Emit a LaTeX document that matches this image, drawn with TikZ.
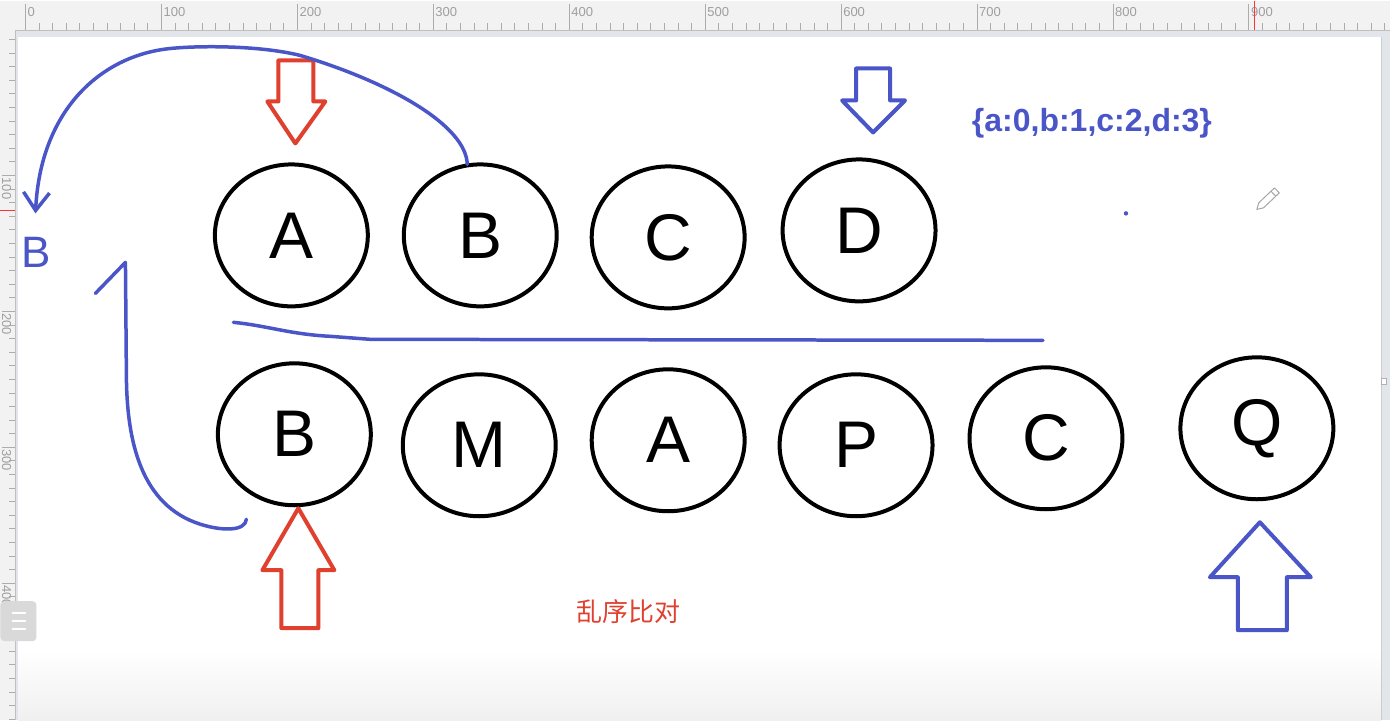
\documentclass[tikz,border=0pt]{standalone}
\usepackage{fontspec}
\setmainfont{Liberation Sans}
\newfontfamily\cjkfont{Noto Sans CJK SC}
\usetikzlibrary{arrows.meta, shapes.geometric, positioning}

\definecolor{penblue}{HTML}{4A55C8}
\definecolor{penred}{HTML}{E0412F}
\definecolor{rulergray}{HTML}{F2F2F2}
\definecolor{framegray}{HTML}{E2E6EB}

\begin{document}
\begin{tikzpicture}[
    x=1pt, y=-1pt,
    ball/.style={
        ellipse, draw=black, line width=4pt,
        minimum width=153pt, minimum height=142pt,
        inner sep=0pt, outer sep=0pt,
        font=\fontsize{66}{66}\selectfont
    },
    pen/.style={draw=penblue, line width=3.5pt, line cap=round, line join=round},
    fatarr/.style={line width=4pt, line join=round},
    rulerlabel/.style={font=\fontsize{13}{13}\selectfont, text=gray!75, inner sep=0pt},
    rulertick/.style={draw=gray!65, line width=0.8pt},
]

% FRAME AND RULERS
\fill[framegray] (0,0) rectangle (1390,720);
\fill[white] (18,37) rectangle (1381,720);
\shade[top color=white, bottom color=gray!12] (18,650) rectangle (1381,720);
\fill[rulergray] (15,0) rectangle (1390,30);
\fill[rulergray] (0,0) rectangle (15,720);
\draw[gray!50] (15,30) -- (1390,30);
\draw[gray!50] (15,30) -- (15,720);
\foreach \i in {0,...,100} {
    \draw[rulertick] ({25+13.6*\i},23) -- ({25+13.6*\i},30);
}
\foreach \v in {0,...,9} {
    \pgfmathtruncatemacro\lab{100*\v}
    \draw[rulertick] ({25+136*\v},3) -- ({25+136*\v},30);
    \node[rulerlabel, anchor=west] (top-\v) at ({27+136*\v},12) {\lab};
}
\foreach \i in {0,...,50} {
    \draw[rulertick] (9,{39+13.6*\i}) -- (15,{39+13.6*\i});
}
\foreach \v in {1,...,4} {
    \pgfmathtruncatemacro\lab{100*\v}
    \draw[rulertick] (2,{39+136*\v}) -- (15,{39+136*\v});
    \node[rulerlabel, rotate=-90, anchor=west] (side-\v) at (6,{41+136*\v}) {\lab};
}
\draw[red!80, line width=1pt] (1255,0) -- (1255,30);
\draw[red!80, line width=1pt] (0,210) -- (15,210);
\draw[gray!40] (1381,37) -- (1381,720);
\draw[gray!60, fill=white] (1381,378) rectangle (1386,384);

% side button
\fill[gray!30, rounded corners=4pt] (0,601) rectangle (36,641);
\foreach \yy in {613,621,629} {
    \draw[white, line width=1.5pt] (12,\yy) -- (26,\yy);
}

% pencil cursor and dot
\draw[gray!70, line width=1pt, line join=round]
    (1257,209) -- (1263.7,207.4) -- (1279.4,192.5) -- (1274.6,187.5) -- (1258.9,202.4) -- cycle;
\draw[gray!70, line width=1pt] (1275.6,195.5) -- (1270.8,190.5);
\fill[penblue] (1126,213) circle (2.2);

% OLD ROW
\node[ball] (old-a) at (291,235) {A};
\node[ball, right=36pt of old-a] (old-b) {B};
\node[ball, right=35pt of old-b, yshift=-2pt] (old-c) {C};
\node[ball, right=38pt of old-c, yshift=7pt] (old-d) {D};

% NEW ROW
\node[ball] (new-b) at (294,434) {B};
\node[ball, right=32pt of new-b, yshift=-11pt] (new-m) {M};
\node[ball, right=36pt of new-m, yshift=5pt] (new-a) {A};
\node[ball, right=35pt of new-a, yshift=-5pt] (new-p) {P};
\node[ball, right=37pt of new-p, yshift=7pt] (new-c) {C};
\node[ball, right=58pt of new-c, yshift=10pt] (new-q) {Q};

% LABELS
\node[font=\fontsize{32}{32}\selectfont\bfseries, text=penblue] (keymap) at (1092,123) {\{a:0,b:1,c:2,d:3\}};
\node[font=\cjkfont\fontsize{26}{26}\selectfont, text=penred] (title) at (628,611) {乱序比对};
\node[font=\fontsize{44}{44}\selectfont, text=penblue, inner sep=0pt] (moved-b) at (36,252) {B};

% POINTERS
\draw[fatarr, draw=penred]
    (295,143) -- (325,101) -- (313,101) -- (313,60) -- (278,60) -- (278,101) -- (267,101) -- cycle;
\draw[fatarr, draw=penblue]
    (873,132) -- (905,100) -- (890,100) -- (890,68) -- (856,68) -- (856,100) -- (842,100) -- cycle;
\draw[fatarr, draw=penred]
    (298,508) -- (334,570) -- (318,570) -- (318,628) -- (281,628) -- (281,570) -- (262,570) -- cycle;
\draw[fatarr, draw=penblue]
    (1260,522) -- (1311,577) -- (1287,577) -- (1287,630) -- (1238,630) -- (1238,577) -- (1210,577) -- cycle;

% MOVES
\coordinate (drop) at (35,213);
\coordinate (lift) at (125,262);
\draw[pen, -{Straight Barb[length=18pt,width=26pt]}]
    ([xshift=-13pt]old-b.north) .. controls (466,125) and (390,82) .. (300,55)
    .. controls (260,45) and (200,45) .. (170,48)
    .. controls (100,55) and (40,110) .. (drop);
\draw[pen]
    ([shift={(-48,14)}]new-b.south) .. controls (245,531) and (222,531) .. (200,524)
    .. controls (140,505) and (127,440) .. (126,380) -- (lift) -- ++(-30,31);
\draw[pen] (233,322) .. controls (265,325) and (290,334) .. (330,336)
    -- (370,339) -- (1043,340);

\end{tikzpicture}
\end{document}
